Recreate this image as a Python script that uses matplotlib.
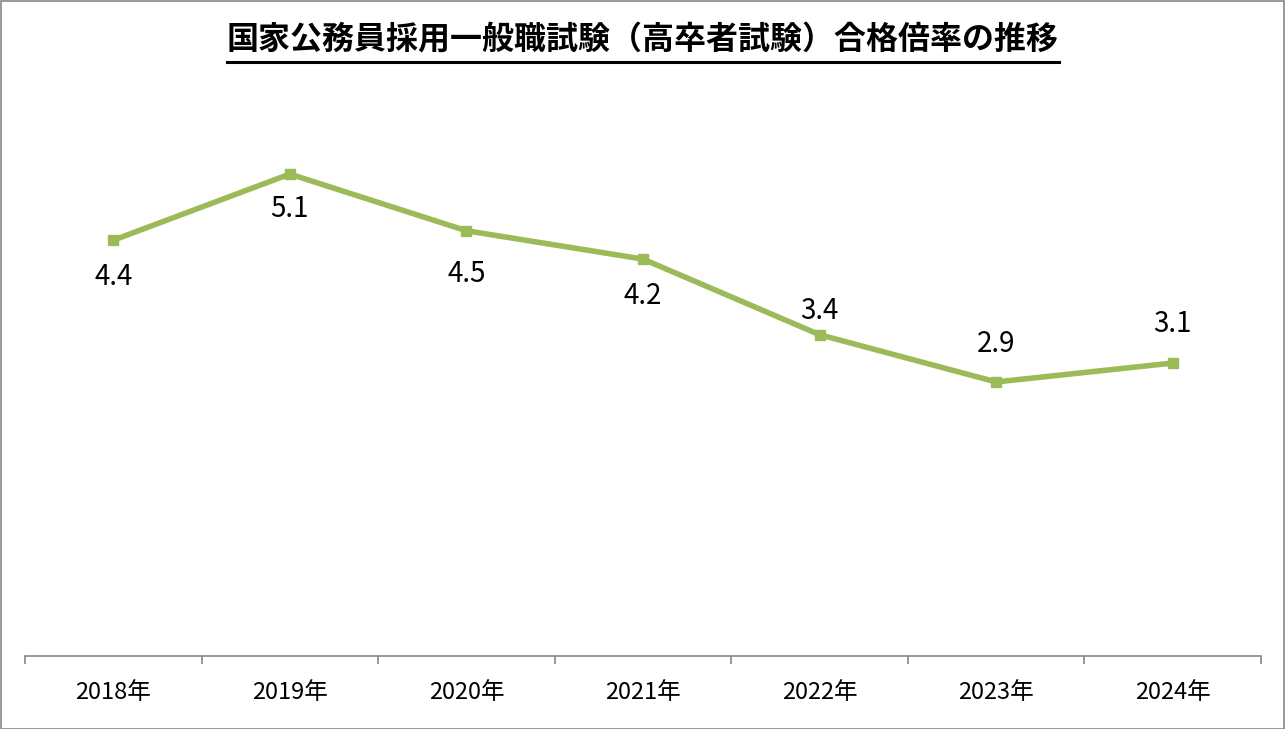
import matplotlib
matplotlib.use("Agg")
import matplotlib.pyplot as plt
from matplotlib.lines import Line2D
import numpy as np

plt.rcParams['font.family'] = ['Noto Sans CJK JP', 'DejaVu Sans']

title = "国家公務員採用一般職試験（高卒者試験）合格倍率の推移"
years = ["2018年", "2019年", "2020年", "2021年", "2022年", "2023年", "2024年"]
ratios = [4.4, 5.1, 4.5, 4.2, 3.4, 2.9, 3.1]

# label offsets in pixels (positive = below the point)
label_dy_px = [37, 35, 43, 37, -24, -38, -39]

W, H = 1285, 729
fig = plt.figure(figsize=(W / 100, H / 100), dpi=100)
ax = fig.add_axes([25 / W, (H - 656) / H, (1261 - 25) / W, (656 - 89) / H])

green = "#9BBB59"
x = np.arange(len(years))
ax.plot(x, ratios, color=green, lw=4.0, marker="s", ms=6.5, solid_joinstyle="miter", zorder=3)

for xi, v, dy in zip(x, ratios, label_dy_px):
    ax.annotate(f"{v:.1f}", (xi, v), xytext=(0, -dy * 0.72), textcoords="offset points",
                ha="center", va="center", fontsize=20, color="black")

ax.set_xlim(-0.5, len(years) - 0.5)
ax.set_ylim(0, 6)
for s in ["top", "left", "right"]:
    ax.spines[s].set_visible(False)
ax.spines["bottom"].set_color("#868686")
ax.spines["bottom"].set_linewidth(1.2)
ax.set_yticks([])
ax.set_xticks(np.arange(-0.5, len(years), 1.0))
ax.set_xticklabels([])
ax.set_xticks(x, minor=True)
ax.set_xticklabels(years, minor=True, fontsize=17)
ax.tick_params(axis="x", which="major", length=6, width=1.2, color="#868686", direction="out")
ax.tick_params(axis="x", which="minor", length=0, pad=18)

t = fig.text(0.5, (H - 40) / H, title, ha="center", va="center", fontsize=23, fontweight="bold")
fig.canvas.draw()
bb = t.get_window_extent()
uy = (H - 62) / H
fig.add_artist(Line2D([bb.x0 / W, bb.x1 / W], [uy, uy], color="black", lw=2.2, transform=fig.transFigure))

fig.add_artist(plt.Rectangle((0.5 / W, 0.5 / H), 1 - 1.5 / W, 1 - 1.5 / H, fill=False,
                             edgecolor="#888888", lw=1.2, transform=fig.transFigure))

fig.savefig("out.png", dpi=100)
